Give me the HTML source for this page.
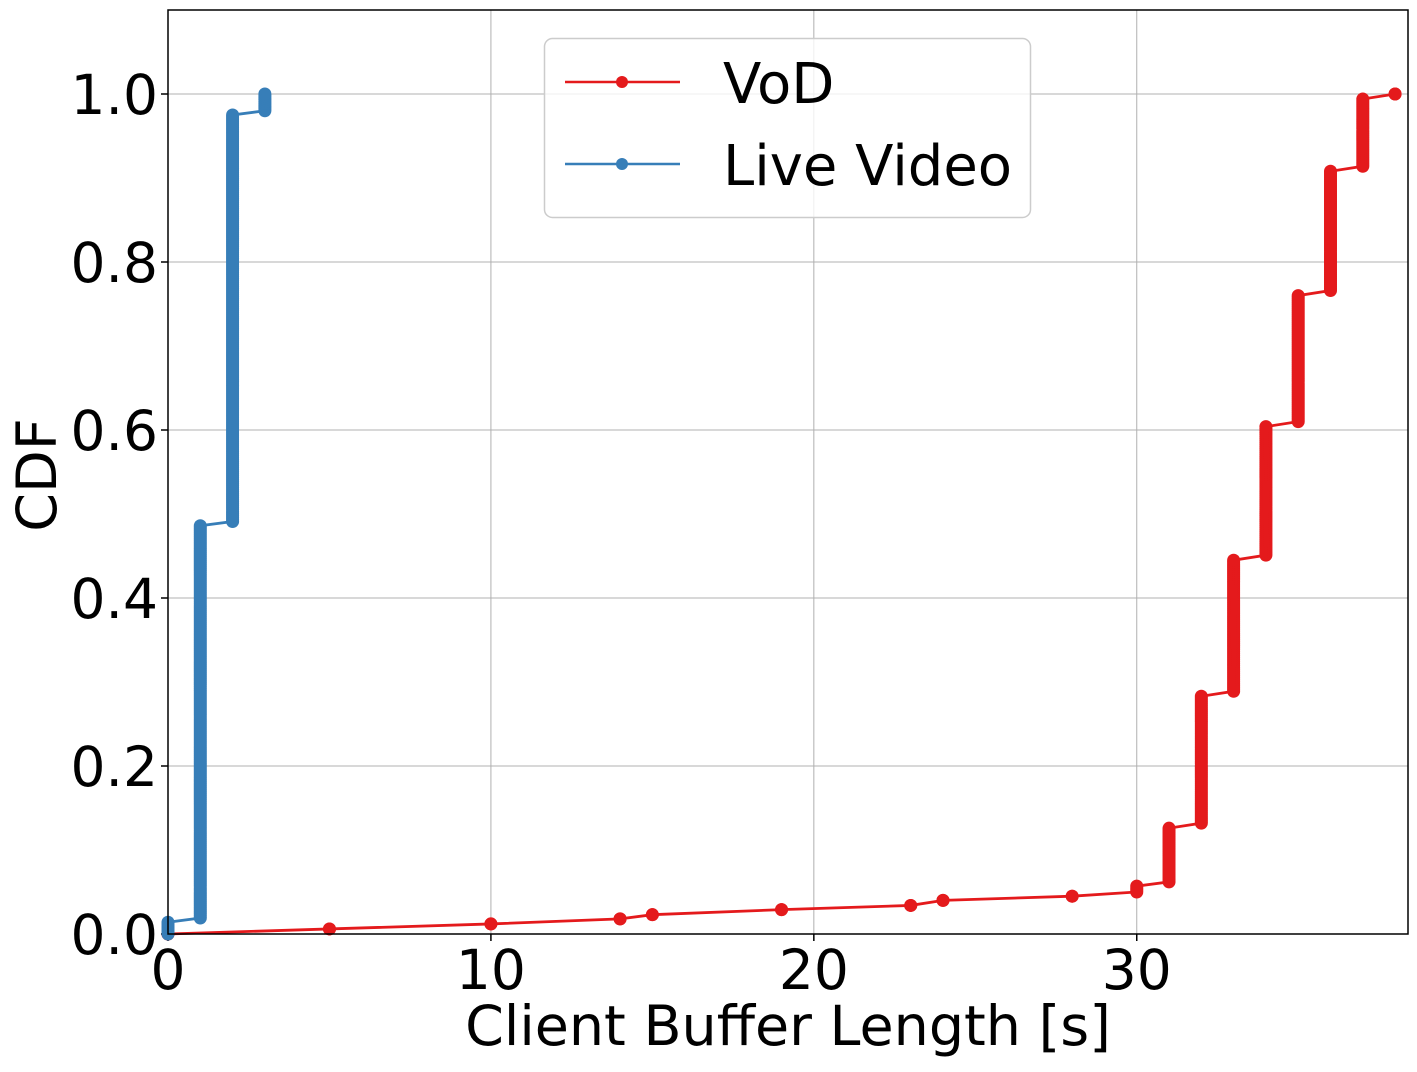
<!DOCTYPE html>
<html><head><meta charset="utf-8"><style>
body{margin:0;background:#fff}
svg text{font-family:"DejaVu Sans","Liberation Sans",sans-serif}
</style></head><body>
<svg id="c" width="1417" height="1067"></svg>
<script>
const xTicks=[0,10,20,30];
const yTicks=[0.0,0.2,0.4,0.6,0.8,1.0];
const yTickLabels=["0.0","0.2","0.4","0.6","0.8","1.0"];
const vodX=[0,5,10,14,15,19,23,24,28,30,31,32,33,34,35,36,37,38];
const vodLo=[0,0.006,0.012,0.018,0.023,0.029,0.034,0.040,0.045,0.050,0.062,0.132,0.289,0.451,0.610,0.766,0.914,1.0];
const vodHi=[0,0.006,0.012,0.018,0.023,0.029,0.034,0.040,0.045,0.057,0.126,0.283,0.445,0.604,0.760,0.908,0.994,1.0];
const liveX=[0,1,2,3];
const liveLo=[0,0.019,0.491,0.980];
const liveHi=[0.014,0.486,0.975,1.0];

const L=168,R=1408,T=10,B=934,XMAX=38.4,YMAX=1.1;
const sx=v=>L+v/XMAX*(R-L), sy=v=>B-v/YMAX*(B-T);
const NS="http://www.w3.org/2000/svg", svg=document.getElementById('c');
function mk(t,a,p){const e=document.createElementNS(NS,t);for(const k in a)e.setAttribute(k,a[k]);(p||svg).appendChild(e);return e;}

const grid=mk('g',{});


xTicks.forEach(v=>{
  mk('line',{x1:sx(v),x2:sx(v),y1:T,y2:B,stroke:'#b0b0b0','stroke-width':1},grid);
  mk('line',{x1:sx(v),x2:sx(v),y1:B,y2:B+7,stroke:'#000','stroke-width':1.5});
  const t=mk('text',{x:sx(v),y:B+55,'font-size':55,'text-anchor':'middle'});t.textContent=v;
  
  
});
yTicks.forEach((v,i)=>{
  mk('line',{x1:L,x2:R,y1:sy(v),y2:sy(v),stroke:'#b0b0b0','stroke-width':1},grid);
  mk('line',{x1:L-7,x2:L,y1:sy(v),y2:sy(v),stroke:'#000','stroke-width':1.5});
  const t=mk('text',{x:L-10,y:sy(v)+20,'font-size':55,'text-anchor':'end'});t.textContent=yTickLabels[i];
  
  
});

function series(xs,lo,hi,col,name){
  const g=mk('g',{});
  
  
  let pts=[];
  xs.forEach((x,i)=>{pts.push([sx(x),sy(lo[i])]);if(hi[i]!==lo[i])pts.push([sx(x),sy(hi[i])]);});
  mk('polyline',{points:pts.map(p=>p.join(',')).join(' '),fill:'none',stroke:col,'stroke-width':2.8},g);
  xs.forEach((x,i)=>{
    const h=sy(lo[i])-sy(hi[i]);
    const n=Math.max(1,Math.ceil(h/2));
    for(let k=0;k<=n;k++){
      const c=mk('circle',{cx:sx(x),cy:sy(lo[i])-h*k/n,r:6.5,fill:col},g);
      
      
    }
  });
}
series(vodX,vodLo,vodHi,'#e41a1c','vod-series');
series(liveX,liveLo,liveHi,'#377eb8','live-video-series');

mk('rect',{x:L,y:T,width:R-L,height:B-T,fill:'none',stroke:'#000','stroke-width':1.5});

const xl=mk('text',{x:(L+R)/2,y:1045,'font-size':55.5,'text-anchor':'middle'});xl.textContent='Client Buffer Length [s]';


const yl=mk('text',{x:0,y:0,'font-size':55.5,'text-anchor':'middle',transform:'translate(56,475) rotate(-90)'});yl.textContent='CDF';



const lg=mk('g',{});


mk('rect',{x:544.5,y:38.5,width:486,height:179,rx:8,fill:'#fff','fill-opacity':0.8,stroke:'#ccc','stroke-width':1.5},lg);
[['VoD','#e41a1c',82],['Live Video','#377eb8',164]].forEach(([n,c,y])=>{
  const e=mk('g',{},lg);
  
  
  mk('line',{x1:565,x2:680,y1:y,y2:y,stroke:c,'stroke-width':2.5},e);
  mk('circle',{cx:622,cy:y,r:6,fill:c},e);
  const t=mk('text',{x:723,y:y+21,'font-size':56},e);t.textContent=n;
});
</script>
</body></html>
